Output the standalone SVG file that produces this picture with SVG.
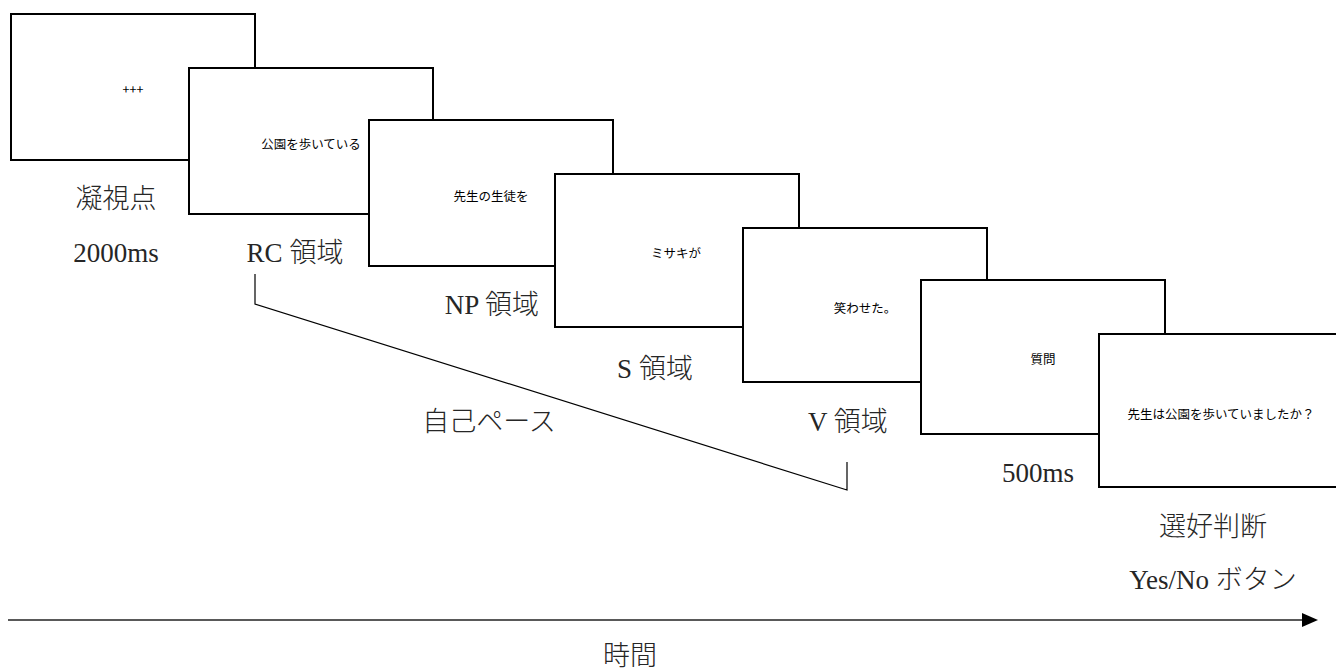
<svg xmlns="http://www.w3.org/2000/svg" width="1336" height="669" viewBox="0 0 1336 669">
<style>
.box{fill:#fff;stroke:#000;stroke-width:2}
.st{font-family:"Noto Sans CJK JP","Liberation Sans",sans-serif;font-size:12.5px;fill:#000;text-anchor:middle;dominant-baseline:central}
.lb{font-family:"Liberation Serif","Noto Sans CJK JP",serif;font-size:27px;font-weight:300;fill:#262626;text-anchor:middle}
.br{fill:none;stroke:#000;stroke-width:1.2}
</style>
<rect width="1336" height="669" fill="#fff"/>
<g id="screen1"><rect class="box" x="11" y="14" width="244" height="146"/><text class="st" x="133" y="88">+++</text></g>
<g id="screen2"><rect class="box" x="189" y="68" width="244" height="146"/><text class="st" x="311" y="143">公園を歩いている</text></g>
<g id="screen3"><rect class="box" x="369" y="120" width="244" height="146"/><text class="st" x="491" y="195">先生の生徒を</text></g>
<g id="screen4"><rect class="box" x="555" y="174" width="244" height="153"/><text class="st" x="676" y="252">ミサキが</text></g>
<g id="screen5"><rect class="box" x="743" y="228" width="244" height="154"/><text class="st" x="865" y="307">笑わせた。</text></g>
<g id="screen6"><rect class="box" x="921" y="280" width="244" height="154"/><text class="st" x="1043" y="358">質問</text></g>
<g id="screen7"><rect class="box" x="1099" y="334" width="244" height="153"/><text class="st" x="1221" y="413">先生は公園を歩いていましたか？</text></g>
<g id="labels">
<text class="lb" x="116" y="208">凝視点</text>
<text class="lb" x="116" y="262">2000ms</text>
<text class="lb" x="295" y="262">RC 領域</text>
<text class="lb" x="492" y="314">NP 領域</text>
<text class="lb" x="655" y="378">S 領域</text>
<text class="lb" x="848" y="431">V 領域</text>
<text class="lb" x="489" y="431">自己ペース</text>
<text class="lb" x="1038" y="482">500ms</text>
<text class="lb" x="1213" y="536">選好判断</text>
<text class="lb" x="1213" y="589">Yes/No ボタン</text>
<text class="lb" x="630" y="665">時間</text>
</g>
<g id="connectors">
<polyline class="br" points="255,274 255,304 847,490 847,462"/>
<line x1="8" y1="620" x2="1304" y2="620" stroke="#595959" stroke-width="2"/>
<polygon points="1302,613 1318,620 1302,627" fill="#000"/>
</g>
</svg>
